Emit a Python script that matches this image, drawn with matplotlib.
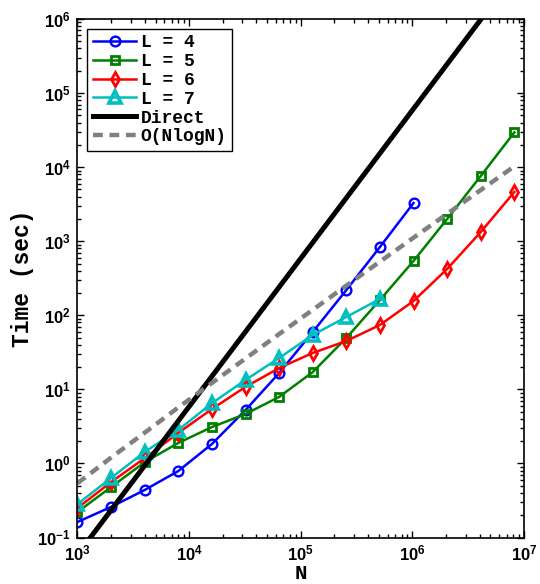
import matplotlib
matplotlib.use('Agg')
import matplotlib.pyplot as plt
from matplotlib.ticker import FixedLocator, FixedFormatter, LogLocator, NullFormatter

plt.rcParams['mathtext.fontset'] = 'custom'
plt.rcParams['mathtext.bf'] = 'Liberation Sans:bold'
plt.rcParams['mathtext.rm'] = 'Liberation Sans:bold'

# problem sizes N = 1000 * 2^k
N = [1000, 2000, 4000, 8000, 16000, 32000, 64000, 128000, 256000,
     512000, 1024000, 2048000, 4096000, 8192000]

# run times (sec)
t_L4 = [0.162, 0.259, 0.438, 0.79, 1.83, 5.26, 16.6, 59.5, 219, 835, 3280]
t_L5 = [0.221, 0.48, 1.04, 1.89, 3.1, 4.65, 7.9, 17.1, 49.4, 161, 541,
        1995, 7590, 29500]
t_L6 = [0.25, 0.56, 1.18, 2.58, 5.43, 10.8, 19.4, 31, 45, 74, 156,
        422, 1330, 4620]
t_L7 = [0.283, 0.636, 1.43, 2.83, 6.5, 13.4, 26.5, 54.2, 94.8, 166]

# reference curves
direct_N = [1e3, 1e7]
direct_T = [0.0586, 5.86e6]
nlogn_T = [0.54, 1.2, 2.6, 5.7, 12.2, 26.1, 55.8, 118.5, 251, 530, 1116,
           2343, 4910, 10270]

x_ticks = [1e3, 1e4, 1e5, 1e6, 1e7]
x_labels = [r'$\mathbf{10^{3}}$', r'$\mathbf{10^{4}}$', r'$\mathbf{10^{5}}$',
            r'$\mathbf{10^{6}}$', r'$\mathbf{10^{7}}$']
y_ticks = [1e-1, 1e0, 1e1, 1e2, 1e3, 1e4, 1e5, 1e6]
y_labels = [r'$\mathbf{10^{-1}}$', r'$\mathbf{10^{0}}$', r'$\mathbf{10^{1}}$',
            r'$\mathbf{10^{2}}$', r'$\mathbf{10^{3}}$', r'$\mathbf{10^{4}}$',
            r'$\mathbf{10^{5}}$', r'$\mathbf{10^{6}}$']

fig = plt.figure(figsize=(5.4, 5.84), dpi=100)
ax = fig.add_axes([0.1435, 0.0796, 0.8269, 0.8879])

lw = 1.8
ax.plot(N[:len(t_L4)], t_L4, color=(0, 0, 1), lw=lw, marker='o', ms=7,
        mfc='none', mew=1.7, label='L = 4')
ax.plot(N[:len(t_L5)], t_L5, color=(0, 0.5, 0), lw=lw, marker='s', ms=6,
        mfc='none', mew=2.0, label='L = 5')
ax.plot(N[:len(t_L6)], t_L6, color=(1, 0, 0), lw=lw, marker='d', ms=7.5,
        mfc='none', mew=2.0, label='L = 6')
ax.plot(N[:len(t_L7)], t_L7, color=(0, 0.75, 0.75), lw=lw, marker='^', ms=8,
        mfc='none', mew=2.6, label='L = 7')
ax.plot(direct_N, direct_T, color='black', lw=3.6, label='Direct')
ax.plot(N, nlogn_T, color=(0.5, 0.5, 0.5), lw=3.2, ls=(0, (2.2, 1.5)),
        label='O(NlogN)')

ax.set_xscale('log')
ax.set_yscale('log')
ax.set_xlim(1e3, 1e7)
ax.set_ylim(1e-1, 1e6)

ax.xaxis.set_major_locator(FixedLocator(x_ticks))
ax.xaxis.set_major_formatter(FixedFormatter(x_labels))
ax.yaxis.set_major_locator(FixedLocator(y_ticks))
ax.yaxis.set_major_formatter(FixedFormatter(y_labels))
ax.xaxis.set_minor_locator(LogLocator(base=10, subs=range(2, 10), numticks=20))
ax.yaxis.set_minor_locator(LogLocator(base=10, subs=range(2, 10), numticks=20))
ax.xaxis.set_minor_formatter(NullFormatter())
ax.yaxis.set_minor_formatter(NullFormatter())

ax.tick_params(which='both', direction='in', top=True, right=True,
               labelsize=12, width=1)
ax.tick_params(which='major', length=5, pad=5)
ax.tick_params(which='minor', length=3)
for s in ax.spines.values():
    s.set_linewidth(1.2)

ax.set_xlabel('N', family='Liberation Mono', weight='bold', fontsize=15,
              labelpad=0)
ax.set_ylabel('Time (sec)', family='Liberation Mono', weight='bold',
              fontsize=16.5, labelpad=2)

leg = ax.legend(loc='upper left', prop={'family': 'Liberation Mono',
                                        'weight': 'bold', 'size': 13},
                fancybox=False, framealpha=1, edgecolor='black',
                borderaxespad=0.55, borderpad=0.3, labelspacing=0.1,
                handlelength=2.4, handletextpad=0.25)
leg.get_frame().set_linewidth(1.0)

fig.savefig('out.png', dpi=100)
